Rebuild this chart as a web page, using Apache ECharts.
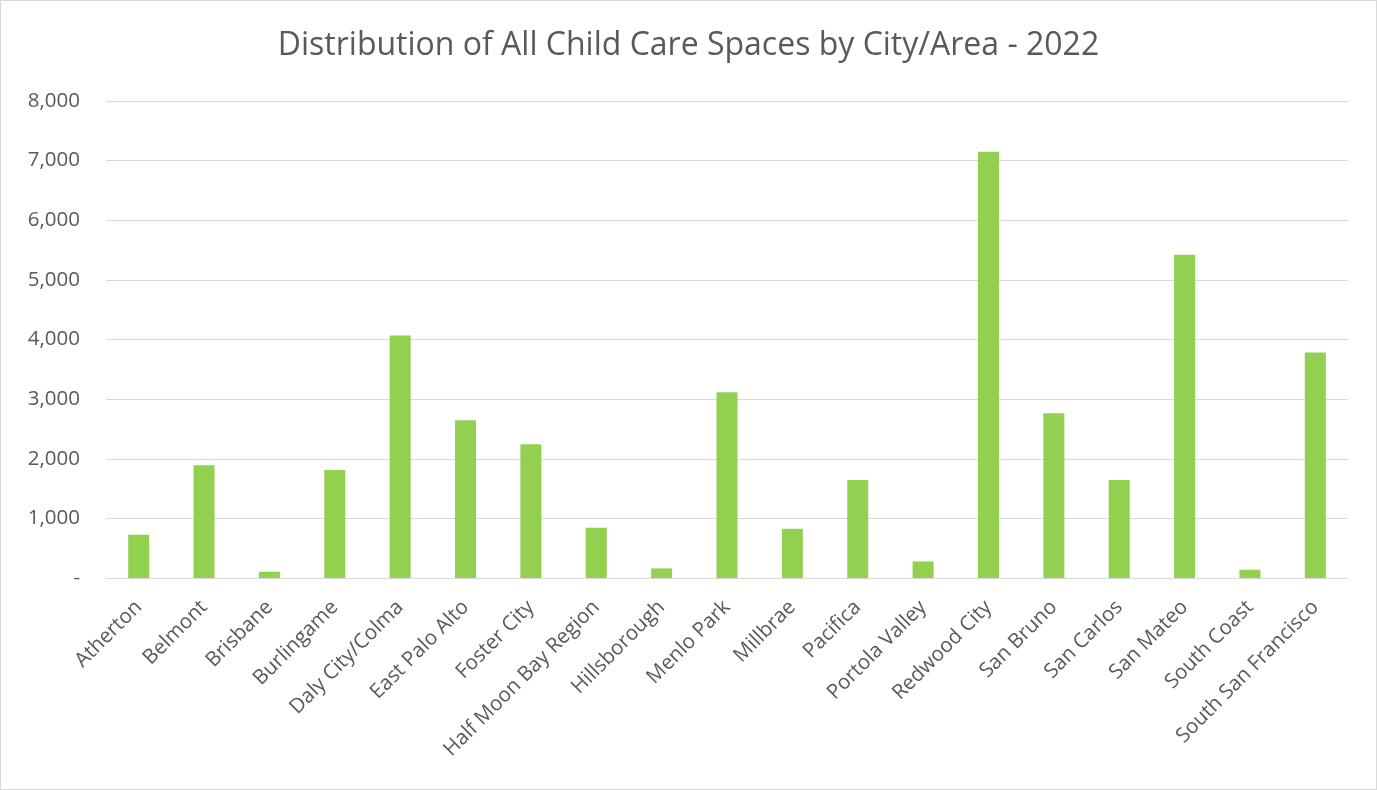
<!DOCTYPE html>
<html>
<head>
<meta charset="utf-8">
<script src="https://cdn.jsdelivr.net/npm/echarts@6/dist/echarts.min.js"></script>
<style>
  html, body { margin: 0; padding: 0; background: #fff; }
  #chart { width: 1377px; height: 790px; box-sizing: border-box; border: 1px solid #d9d9d9; }
</style>
</head>
<body>
<div id="chart"></div>
<script>
// Child care spaces per city/area, 2022
const cities = [
  'Atherton', 'Belmont', 'Brisbane', 'Burlingame', 'Daly City/Colma',
  'East Palo Alto', 'Foster City', 'Half Moon Bay Region', 'Hillsborough',
  'Menlo Park', 'Millbrae', 'Pacifica', 'Portola Valley', 'Redwood City',
  'San Bruno', 'San Carlos', 'San Mateo', 'South Coast', 'South San Francisco'
];
const spaces = [
  724, 1893, 105, 1810, 4066,
  2646, 2245, 841, 161,
  3114, 824, 1643, 278, 7147,
  2763, 1643, 5420, 139, 3782
];
const yTicks = { min: 0, max: 8000, step: 1000 };

const font = 'Open Sans, Liberation Sans, sans-serif';
const chart = echarts.init(document.getElementById('chart'));
chart.setOption({
  animation: false,
  title: {
    text: 'Distribution of All Child Care Spaces by City/Area - 2022',
    left: 'center',
    top: 24,
    textStyle: { fontFamily: font, fontSize: 32, fontWeight: 'normal', color: '#595959' }
  },
  grid: { left: 105, right: 28, top: 100, bottom: 211 },
  xAxis: {
    type: 'category',
    data: cities,
    axisLine: { lineStyle: { color: '#d9d9d9', width: 1 } },
    axisTick: { show: false },
    axisLabel: {
      rotate: 45,
      interval: 0,
      margin: 26,
      color: '#595959',
      fontFamily: font,
      fontSize: 20.5
    }
  },
  yAxis: {
    type: 'value',
    min: yTicks.min,
    max: yTicks.max,
    interval: yTicks.step,
    axisLine: { show: false },
    axisTick: { show: false },
    splitLine: { lineStyle: { color: '#d9d9d9', width: 1 } },
    axisLabel: {
      margin: 26,
      color: '#595959',
      fontFamily: font,
      fontSize: 20.5,
      formatter: v => v === 0 ? '-' : v.toLocaleString('en-US')
    }
  },
  series: [{
    type: 'bar',
    data: spaces,
    barWidth: 21,
    itemStyle: { color: '#92d050' }
  }]
});
</script>
</body>
</html>
